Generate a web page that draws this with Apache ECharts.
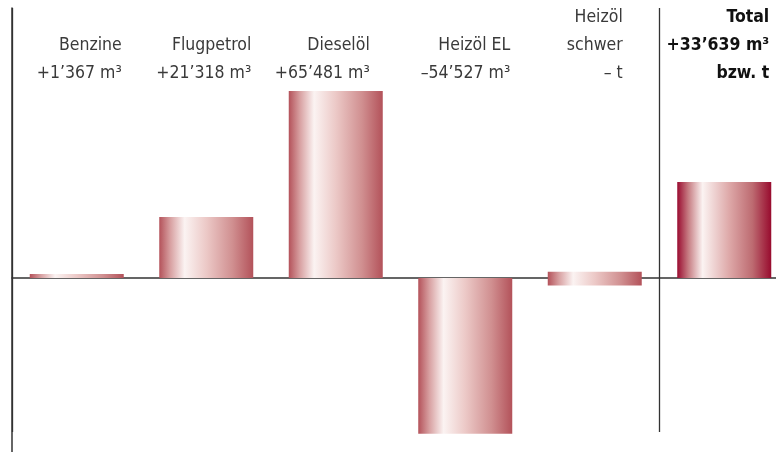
<!DOCTYPE html>
<html>
<head>
<meta charset="utf-8">
<script src="https://cdn.jsdelivr.net/npm/echarts@6/dist/echarts.min.js"></script>
<style>
  html, body { margin: 0; padding: 0; background: #fff; }
  #chart { width: 776px; height: 452px; }
</style>
</head>
<body>
<div id="chart"></div>
<script>
// product names (top line(s) of each header) and the change shown below them
const categories = ['Benzine', 'Flugpetrol', 'Dieselöl', 'Heizöl EL', 'Heizöl\nschwer', 'Total'];
const changeLabels = ['+1’367 m³', '+21’318 m³', '+65’481 m³', '–54’527 m³', '– t', '+33’639 m³\nbzw. t'];
// bar values (m³); Heizöl schwer has no figure, its bar is a small marker across zero
const values = [1367, 21318, 65481, -54527, 2200, 33639];
const belowZero = ['-', '-', '-', '-', -2600, '-'];

const FONT = "'Liberation Sans Narrow', 'DejaVu Sans Condensed', sans-serif";
const FONT_SIZE = 17.5;

const myChart = echarts.init(document.getElementById('chart'));

const barFill = () => new echarts.graphic.LinearGradient(0, 0, 1, 0, [
    { offset: 0, color: '#b4525a' },
    { offset: 0.12, color: '#d8a1a2' },
    { offset: 0.27, color: '#fbf3f2' },
    { offset: 0.5, color: '#ecc9c7' },
    { offset: 0.78, color: '#d08f90' },
    { offset: 1, color: '#b3525a' }
]);
const totalFill = () => new echarts.graphic.LinearGradient(0, 0, 1, 0, [
    { offset: 0, color: '#9a0c30' },
    { offset: 0.12, color: '#c77e84' },
    { offset: 0.27, color: '#fbf3f2' },
    { offset: 0.55, color: '#dea9a9' },
    { offset: 0.8, color: '#bd6b71' },
    { offset: 1, color: '#980b2e' }
]);

const lastIdx = categories.length - 1;
// header block widths (text is right-aligned inside a block centred on the bar)
const headerStyleKey = ['a', 'a', 'd', 'a', 's', 'b'];

const headerText = (value, idx) => {
    let lines = (categories[idx] + '\n' + changeLabels[idx]).split('\n');
    while (lines.length < 3) {
        lines.unshift(' ');
    }
    const key = headerStyleKey[idx];
    return lines.map(l => '{' + key + '|' + l + '}').join('\n');
};

const textStyle = (width, bold) => ({
    width: width,
    align: 'right',
    fontSize: FONT_SIZE,
    lineHeight: 28,
    color: bold ? '#111' : '#3a3a3a',
    fontWeight: bold ? 'bold' : 'normal',
    fontFamily: FONT
});

const option = {
    animation: false,
    grid: [{
        left: 12,
        top: 8,
        width: 777,
        height: 424,
        containLabel: false,
        outerBoundsMode: 'none'
    }, {
        // thin grid that only carries the long left rule
        left: 12,
        top: 8,
        width: 1,
        bottom: 0,
        containLabel: false,
        outerBoundsMode: 'none'
    }],
    xAxis: [{
        type: 'category',
        data: categories,
        position: 'bottom',
        axisLine: { show: true, onZero: true, lineStyle: { color: '#333', width: 1.5 } },
        axisTick: { show: false },
        axisLabel: { show: false },
        splitLine: { show: false }
    }, {
        type: 'category',
        data: categories,
        position: 'top',
        offset: 5,
        axisLine: { show: false },
        axisTick: { show: false },
        splitLine: { show: false },
        axisLabel: {
            inside: true,
            interval: 0,
            margin: 0,
            lineHeight: 28,
            formatter: headerText,
            rich: {
                a: textStyle(90, false),
                d: textStyle(68, false),
                s: textStyle(56, false),
                b: textStyle(90, true)
            }
        }
    }, {
        // only used for the separator line before "Total"
        type: 'value',
        min: 0,
        max: categories.length,
        interval: categories.length - 1,
        position: 'bottom',
        axisLine: { show: false },
        axisTick: { show: false },
        axisLabel: { show: false },
        splitLine: { show: true, lineStyle: { color: '#333', width: 1.3 } }
    }, {
        type: 'value',
        gridIndex: 1,
        show: false
    }],
    yAxis: [{
        type: 'value',
        min: -53900,
        max: 94500,
        axisLine: { show: false },
        axisTick: { show: false },
        axisLabel: { show: false },
        splitLine: { show: false }
    }, {
        type: 'value',
        gridIndex: 1,
        axisLine: { show: true, onZero: false, lineStyle: { color: '#333', width: 1.5 } },
        axisTick: { show: false },
        axisLabel: { show: false },
        splitLine: { show: false }
    }],
    series: [{
        type: 'bar',
        stack: 'all',
        barWidth: 94,
        clip: false,
        data: values.map((v, i) => ({
            value: v,
            itemStyle: { color: i === lastIdx ? totalFill() : barFill() }
        }))
    }, {
        type: 'bar',
        stack: 'all',
        barWidth: 94,
        clip: false,
        itemStyle: { color: barFill() },
        data: belowZero
    }]
};
myChart.setOption(option);
</script>
</body>
</html>
